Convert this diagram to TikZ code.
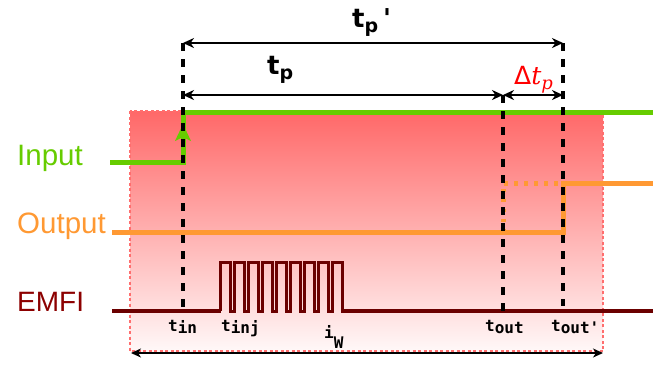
\documentclass[tikz,border=0pt]{standalone}
\usepackage{fontspec}
\setmainfont{Liberation Sans}
\newfontfamily\tpfont{DejaVu Sans}
\newfontfamily\lblmono{DejaVu Sans Mono}
\newfontfamily\dserif{DejaVu Serif}
\usetikzlibrary{arrows.meta}
\definecolor{ingreen}{RGB}{102,204,0}
\definecolor{outorange}{RGB}{255,153,51}
\definecolor{emfired}{RGB}{107,0,0}
\definecolor{emfitext}{RGB}{140,0,0}
\definecolor{rtop}{RGB}{255,104,104}
\definecolor{rbot}{RGB}{255,248,248}
\definecolor{rborder}{RGB}{255,110,110}
\tikzset{
  sig/.style={line width=5pt},
  marker/.style={line width=3.2pt, dash pattern=on 8pt off 8pt},
  dimarrow/.style={line width=2pt, {Stealth[length=11pt,width=10pt,inset=3.5pt]}-{Stealth[length=11pt,width=10pt,inset=3.5pt]}},
  biglabel/.style={inner sep=0pt, anchor=base west},
  tlabel/.style={font=\lblmono\bfseries\fontsize{16}{18}\selectfont, inner sep=0pt, anchor=base west},
  tplabel/.style={font=\tpfont\bfseries\fontsize{26}{28}\selectfont, inner sep=0pt, anchor=base west},
}
\begin{document}
\begin{tikzpicture}[x=1pt,y=-1pt]
\useasboundingbox (0,0) rectangle (670,365);
% window
\shade[top color=rtop, bottom color=rbot] (130,111) rectangle (603,351);
\draw[rborder, line width=2.5pt, dash pattern=on 3pt off 2.5pt] (130,111) rectangle (603,351);
% coordinates
\coordinate (tinb) at (183,311);
\coordinate (tint) at (183,43);
\coordinate (tinm) at (183,95);
\coordinate (toutb) at (503,311);
\coordinate (toutm) at (503,95);
\coordinate (tout2b) at (563,306);
\coordinate (tout2t) at (563,43);
\coordinate (tout2m) at (563,95);
\coordinate (iwl) at (131,353);
\coordinate (iwr) at (603,353);
\coordinate (risetip) at (183,124);
% labels
\node[biglabel, text=ingreen, font=\fontsize{29.5}{31}\selectfont] (lin) at (17,165) {Input};
\node[biglabel, text=outorange, font=\fontsize{29.5}{31}\selectfont] (lout) at (17,233) {Output};
\node[biglabel, text=emfitext, font=\fontsize{28}{30}\selectfont] (lemfi) at (17,311) {EMFI};
% input
\draw[sig, ingreen] (110,162) -- (183,162) -- (183,112) -- (653,112);
\fill[ingreen] (risetip) -- ++(8,17) -- ++(-8,-4) -- ++(-8,4) -- cycle;
% output
\draw[sig, outorange] (112,232) -- (563,232) -- (563,183) -- (653,183);
\draw[sig, outorange, dash pattern=on 3.5pt off 6.5pt] (503,232) -- (503,183) -- (563,183);
% EMFI
\draw[line width=4.5pt, emfired] (112,311) -- (221,311);
\draw[line width=4.5pt, emfired] (343,311) -- (653,311);
\draw[line width=3pt, emfired, line join=miter] (220,311)
  \foreach \k in {0,...,8} { -- ++(0,-49) -- ++(10,0) -- ++(0,49) -- ++(4,0) };
% markers
\draw[marker] (tint) -- (tinb);
\draw[marker] (toutm) -- (toutb);
\draw[marker] (tout2t) -- (tout2b);
% dimension arrows
\draw[dimarrow] (tint) -- (tout2t);
\draw[dimarrow] (tinm) -- (toutm);
\draw[dimarrow] (toutm) -- (tout2m);
\draw[line width=1.6pt, {Stealth[length=10pt,width=9pt,inset=3pt]}-{Stealth[length=10pt,width=9pt,inset=3pt]}] (iwl) -- (iwr);
% time labels
\node[tplabel] (ltp2) at (352,27) {t\raisebox{-5pt}{\fontsize{19}{21}\selectfont p}\hspace{5pt}'};
\node[tplabel] (ltp) at (267,74) {t\raisebox{-5pt}{\fontsize{19}{21}\selectfont p}};
\node[inner sep=0pt, anchor=base west, text=red, font=\fontsize{25}{27}\selectfont] (ldtp) at (514,84) {{\tpfont Δ}{\dserif\itshape t\raisebox{-5pt}{\fontsize{18}{20}\selectfont p}}};
\node[tlabel] (ltin) at (168,331) {t\raisebox{-2.5pt}{in}};
\node[tlabel] (ltinj) at (221,331) {t\raisebox{-2.5pt}{inj}};
\node[tlabel] (ltout) at (485,331) {t\raisebox{-2.5pt}{out}};
\node[tlabel] (ltout2) at (551,331) {t\raisebox{-2.5pt}{out'}};
\node[tlabel] (liw) at (324,338) {i\raisebox{-10pt}{W}};
\end{tikzpicture}
\end{document}
